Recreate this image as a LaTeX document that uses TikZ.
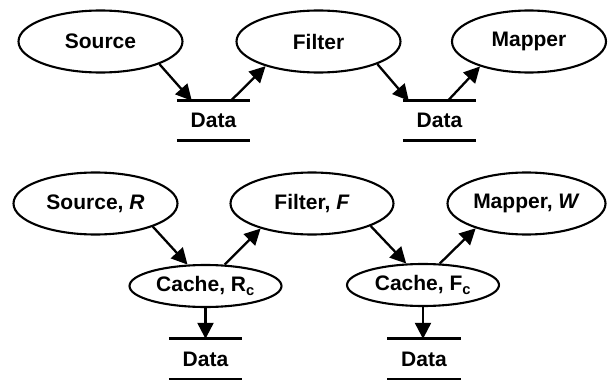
\documentclass[tikz,border=0pt]{standalone}
\usepackage{fontspec}
\setmainfont{Liberation Sans}
\usetikzlibrary{arrows.meta,shapes.geometric}
\begin{document}
\begin{tikzpicture}[x=1pt,y=-1pt,
  txt/.style={font=\fontsize{21}{25}\selectfont\bfseries},
  proc/.style={draw, line width=2.1pt, ellipse, inner sep=0pt, minimum width=164pt, minimum height=62pt, txt},
  cachebox/.style={draw, line width=2.1pt, ellipse, inner sep=0pt, minimum width=152pt, minimum height=42pt, txt},
  store/.style={inner sep=0pt, minimum width=73pt, minimum height=39pt, txt,
    append after command={
      (\tikzlastnode.north west) edge[-, line width=3pt] (\tikzlastnode.north east)
      (\tikzlastnode.south west) edge[-, line width=3pt] (\tikzlastnode.south east)}},
  arr/.style={line width=2.3pt, -{Triangle[length=16pt,width=16pt]}}]
\useasboundingbox (0,0) rectangle (608,380);
% top row
\node[proc] (src) at (100.5,41.5) {Source};
\node[proc] (flt) at (318.5,41.5) {Filter};
\node[proc, minimum width=154pt] (map) at (529,41.5) {Mapper};
\node[store] (d1) at (213.5,120.5) {Data};
\node[store] (d2) at (439.5,120.5) {Data};
\draw[arr] (src.-21) -- ([xshift=15pt]d1.north west);
\draw[arr] ([xshift=54pt]d1.north west) -- (flt.-155);
\draw[arr] (flt.-21) -- ([xshift=6pt]d2.north west);
\draw[arr] ([xshift=45pt]d2.north west) -- (map.-153);
% bottom row
\node[proc] (srcr) at (95.5,203.5) {Source, \textit{R}};
\node[proc, minimum width=163pt] (fltf) at (312,203.5) {Filter, \textit{F}};
\node[proc, minimum width=158pt] (mapw) at (526.5,203.5) {Mapper, \textit{W}};
\node[cachebox] (crc) at (205.5,286) {Cache, R\textsubscript{c}};
\node[cachebox] (cfc) at (423,285) {Cache, F\textsubscript{c}};
\node[store, minimum height=40pt] (d3) at (205.5,359) {Data};
\node[store, minimum height=40pt] (d4) at (424,359) {Data};
\draw[arr] (srcr.-22) -- (crc.130);
\draw[arr] (crc.48) -- (fltf.-154);
\draw[arr] (fltf.-21) -- (cfc.128);
\draw[arr] (cfc.52) -- (mapw.-154);
\draw[arr] (crc.south) -- (d3.north);
\draw[arr] (cfc.south) -- (cfc.south |- d4.north);
\end{tikzpicture}
\end{document}
